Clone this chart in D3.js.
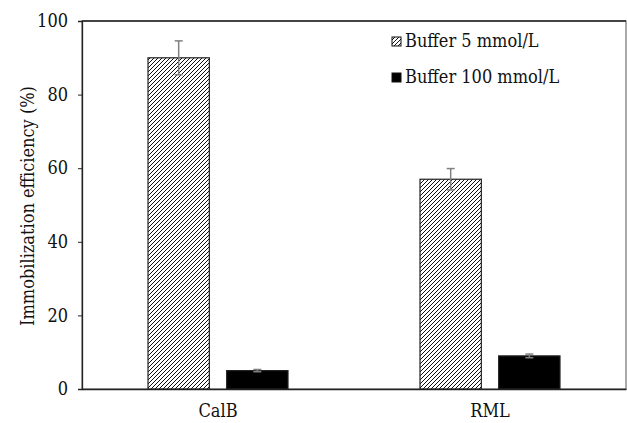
<!DOCTYPE html>
<html><head><meta charset="utf-8">
<script src="https://cdn.jsdelivr.net/npm/d3@7"></script>
<style>body{margin:0;background:#fff} svg text{font-family:"DejaVu Serif Condensed","DejaVu Serif",serif !important;font-stretch:condensed;}</style>
</head><body>
<svg id="c" width="627" height="423"></svg>
<script>
const categories = ["CalB", "RML"];
const seriesNames = ["Buffer 5 mmol/L", "Buffer 100 mmol/L"];
const values5 = [90, 57];
const errors5 = [4.6, 2.9];
const values100 = [5, 9];
const errors100 = [0.3, 0.5];
const yTicks = [0, 20, 40, 60, 80, 100];

const svg = d3.select("#c");
const m = {l: 82, r: 626, t: 21, b: 389};

const defs = svg.append("defs");
const pat = defs.append("pattern").attr("id","hatch").attr("patternUnits","userSpaceOnUse")
  .attr("width",4).attr("height",4);
pat.append("rect").attr("width",4).attr("height",4).attr("fill","#fff");
pat.append("path").attr("d","M-1,1 l2,-2 M0,4 l4,-4 M3,5 l2,-2").attr("stroke","#111").attr("stroke-width",1);

const x = d3.scaleBand().domain(categories).range([m.l, m.r]);
const sub = d3.scaleBand().domain(seriesNames).range([-70, 70]).paddingInner(0.22);
const y = d3.scaleLinear().domain([0, 100]).range([m.b, m.t]);

svg.append("rect").attr("x", m.l).attr("y", m.t).attr("width", m.r - m.l).attr("height", m.b - m.t)
  .attr("fill","none").attr("stroke","#555").attr("stroke-width",1);
svg.append("line").attr("x1", m.l).attr("x2", m.r).attr("y1", m.t).attr("y2", m.t).attr("stroke","#222").attr("stroke-width",1.5);

const series = [
  {name: seriesNames[0], vals: values5, errs: errors5, fill: "url(#hatch)"},
  {name: seriesNames[1], vals: values100, errs: errors100, fill: "#000"}
];

series.forEach(s => {
  categories.forEach((c, i) => {
    const cx = x(c) + x.bandwidth()/2;
    const bx = cx + sub(s.name);
    svg.append("rect").attr("x", bx).attr("y", y(s.vals[i])).attr("width", sub.bandwidth())
      .attr("height", y(0) - y(s.vals[i])).attr("fill", s.fill).attr("stroke","#222").attr("stroke-width",1.2);
    const ex = bx + sub.bandwidth()/2;
    const g = svg.append("g").attr("stroke","#808080").attr("stroke-width",1.5);
    g.append("line").attr("x1", ex).attr("x2", ex).attr("y1", y(s.vals[i]+s.errs[i])).attr("y2", y(s.vals[i]-s.errs[i]));
    [s.vals[i]+s.errs[i], s.vals[i]-s.errs[i]].forEach(v => {
      g.append("line").attr("x1", ex-4).attr("x2", ex+4).attr("y1", y(v)).attr("y2", y(v));
    });
  });
});

const ya = svg.append("g").attr("transform", `translate(${m.l},0)`)
  .call(d3.axisLeft(y).tickValues(yTicks).tickSize(4).tickPadding(10));
ya.attr("font-family", null);
ya.select(".domain").attr("stroke","#222").attr("stroke-width",1.3);
ya.selectAll(".tick line").attr("stroke","#222");
ya.selectAll("text").attr("font-size", 18).attr("fill","#111");

const xa = svg.append("g").attr("transform", `translate(0,${m.b})`)
  .call(d3.axisBottom(x).tickSize(0).tickPadding(15));
xa.attr("font-family", null);
xa.select(".domain").attr("stroke","#222").attr("stroke-width",1.3);
xa.selectAll("text").attr("font-size", 18).attr("fill","#111");

svg.append("text").attr("transform","translate(28,206) rotate(-90)").attr("text-anchor","middle")
  .attr("dy","0.35em").attr("font-size", 18).attr("fill","#111").text("Immobilization efficiency (%)");

const leg = svg.append("g");
series.forEach((s, i) => {
  const ly = 41 + i*36;
  leg.append("rect").attr("x", 392).attr("y", ly - 4).attr("width", 9).attr("height", 9)
    .attr("fill", s.fill).attr("stroke","#111").attr("stroke-width",1);
  leg.append("text").attr("x", 405).attr("y", ly).attr("dy","0.35em")
    .attr("font-size", 18).attr("fill","#111").text(s.name);
});
</script>
</body></html>
